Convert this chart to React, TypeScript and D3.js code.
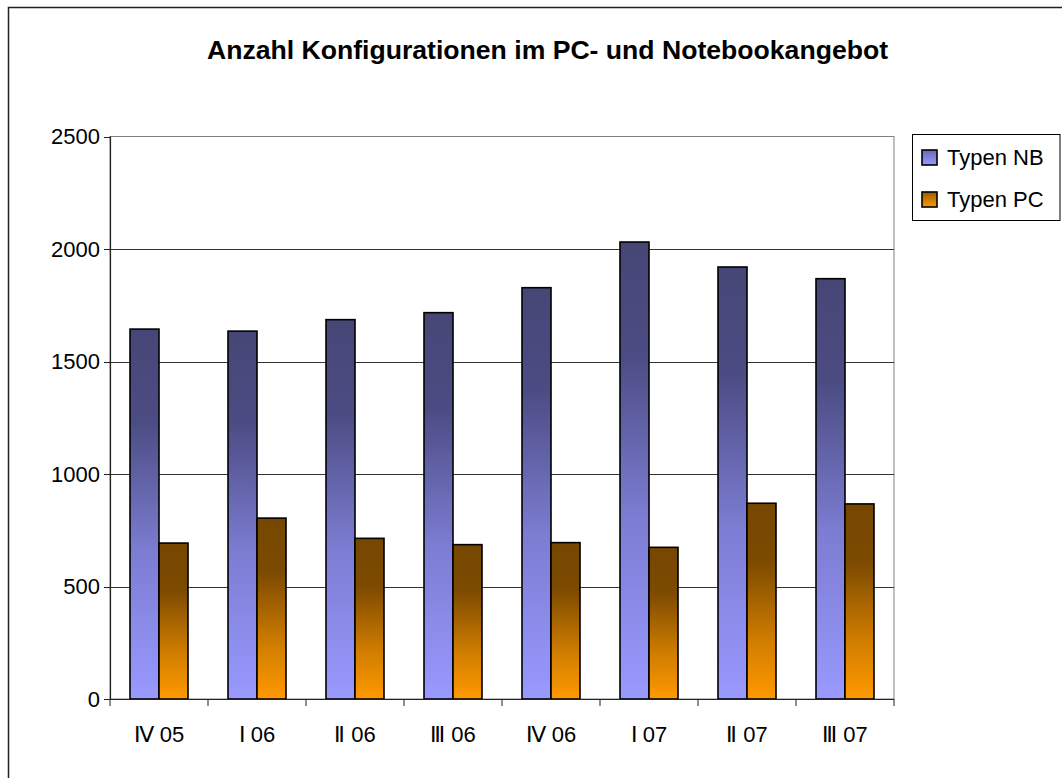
import React from "react";
import * as d3 from "d3";

const categories = ["Ⅳ 05", "Ⅰ 06", "Ⅱ 06", "Ⅲ 06", "Ⅳ 06", "Ⅰ 07", "Ⅱ 07", "Ⅲ 07"];
const typenNB = [1644, 1635, 1686, 1717, 1828, 2031, 1920, 1868];
const typenPC = [693, 804, 714, 686, 695, 674, 870, 867];
const seriesNames = ["Typen NB", "Typen PC"];
const yTicks = [0, 500, 1000, 1500, 2000, 2500];
const title = "Anzahl Konfigurationen im PC- und Notebookangebot";

const font = "'Liberation Sans', Arial, sans-serif";

const App = () => {
  const left = 110;
  const right = 894;
  const top = 136.5;
  const bottom = 699;

  const x = d3.scaleBand<string>().domain(categories).range([left, right]);
  const y = d3.scaleLinear().domain([0, 2500]).range([bottom, top]);
  const bw = 29;
  const series = [typenNB, typenPC];

  return (
    <div style={{ position: "fixed", left: 0, top: 0, width: 1062, height: 778, overflow: "hidden", background: "#fff" }}>
      <svg width={1062} height={778} style={{ display: "block" }}>
        <defs>
          <linearGradient id="gNB" x1="0" y1="0" x2="0" y2="1">
            <stop offset="0" stopColor="#464676" />
            <stop offset="0.25" stopColor="#4c4c84" />
            <stop offset="0.6" stopColor="#7c7cd2" />
            <stop offset="1" stopColor="#9999ff" />
          </linearGradient>
          <linearGradient id="gPC" x1="0" y1="0" x2="0" y2="1">
            <stop offset="0" stopColor="#774700" />
            <stop offset="0.3" stopColor="#7c4a00" />
            <stop offset="0.7" stopColor="#d07d00" />
            <stop offset="1" stopColor="#ff9900" />
          </linearGradient>
          <linearGradient id="lNB" x1="0" y1="0" x2="0" y2="1">
            <stop offset="0" stopColor="#6a6ab8" />
            <stop offset="1" stopColor="#9999ff" />
          </linearGradient>
          <linearGradient id="lPC" x1="0" y1="0" x2="0" y2="1">
            <stop offset="0" stopColor="#9a5c00" />
            <stop offset="1" stopColor="#ff9900" />
          </linearGradient>
        </defs>

        {/* chart area border */}
        <rect x={8.5} y={7.5} width={1100} height={800} fill="#fff" stroke="#222" strokeWidth={1.5} />

        {/* title */}
        <text x={547.5} y={59} textAnchor="middle" fontFamily={font} fontWeight="bold" fontSize={26.6} fill="#000">
          {title}
        </text>

        {/* plot area */}
        <rect x={left} y={top} width={right - left} height={bottom - top} fill="#fff" stroke="#808080" strokeWidth={1} />

        {/* gridlines */}
        {yTicks.filter((t) => t > 0 && t < 2500).map((t) => (
          <line key={t} x1={left} x2={right} y1={Math.round(y(t)) + 0.5} y2={Math.round(y(t)) + 0.5} stroke="#333" strokeWidth={1} />
        ))}

        {/* bars */}
        {categories.map((c, i) => {
          const cx = (x(c) as number) + x.bandwidth() / 2;
          return series.map((s, k) => (
            <rect
              key={c + k}
              x={cx - bw + k * bw}
              y={y(s[i])}
              width={bw}
              height={y(0) - y(s[i])}
              fill={k === 0 ? "url(#gNB)" : "url(#gPC)"}
              stroke="#000"
              strokeWidth={1.6}
            />
          ));
        })}

        {/* y axis */}
        <line x1={left + 0.5} x2={left + 0.5} y1={top} y2={bottom} stroke="#222" strokeWidth={1.2} />
        {yTicks.map((t) => (
          <g key={t}>
            <line x1={left - 6} x2={left} y1={Math.round(y(t)) + 0.5} y2={Math.round(y(t)) + 0.5} stroke="#222" />
            <text x={left - 10} y={y(t)} dy="0.36em" textAnchor="end" fontFamily={font} fontSize={22} fill="#000">
              {t}
            </text>
          </g>
        ))}

        {/* x axis */}
        <line x1={left} x2={right} y1={bottom + 0.5} y2={bottom + 0.5} stroke="#222" strokeWidth={1.2} />
        {[...categories.map((c) => x(c) as number), right].map((px, i) => (
          <line key={i} x1={px} x2={px} y1={bottom} y2={bottom + 7} stroke="#222" />
        ))}
        {categories.map((c) => (
          <text key={c} x={(x(c) as number) + x.bandwidth() / 2} y={742} textAnchor="middle" fontFamily={font} fontSize={22} fill="#000">
            {c}
          </text>
        ))}

        {/* legend */}
        <rect x={912.5} y={134.5} width={147.5} height={86} fill="#fff" stroke="#000" strokeWidth={1} />
        {seriesNames.map((n, k) => (
          <g key={n}>
            <rect x={922} y={150 + k * 42} width={15} height={15} fill={k === 0 ? "url(#lNB)" : "url(#lPC)"} stroke="#000" strokeWidth={1.6} />
            <text x={947} y={165 + k * 42} fontFamily={font} fontSize={22} fill="#000">
              {n}
            </text>
          </g>
        ))}
      </svg>
    </div>
  );
};

export default App;
